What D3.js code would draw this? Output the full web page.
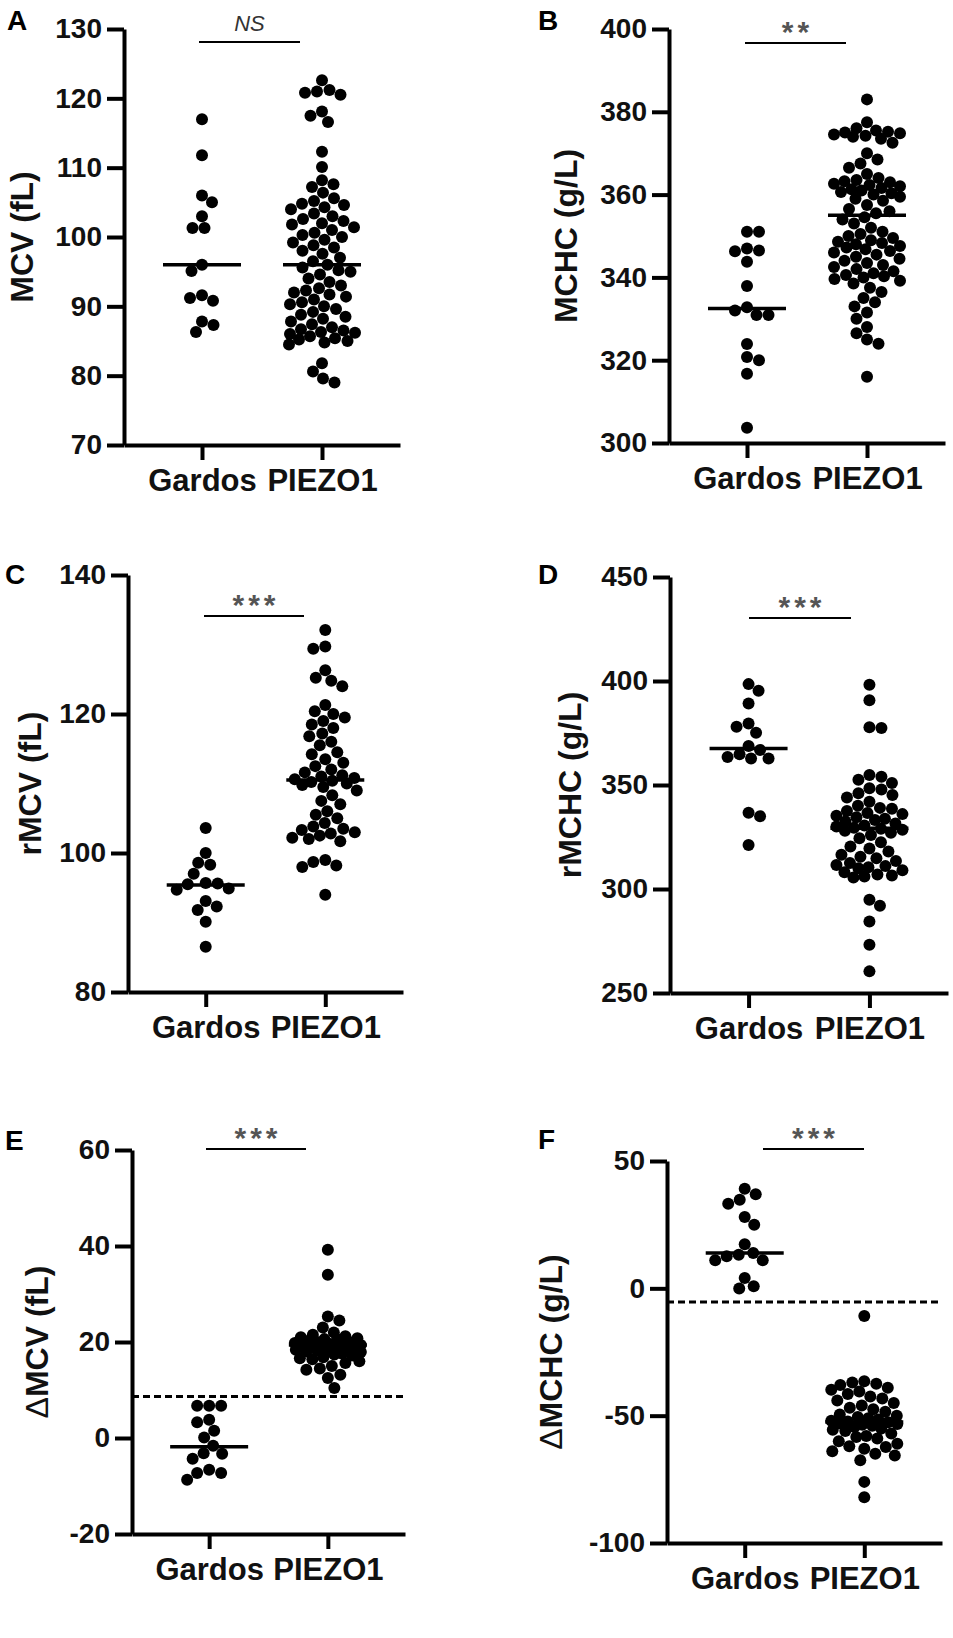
<!DOCTYPE html>
<html>
<head>
<meta charset="utf-8">
<script src="https://cdn.jsdelivr.net/npm/d3@7"></script>
<style>
  body { margin: 0; background: #fff; }
  svg text { font-family: "Liberation Sans", Arial, sans-serif; }
</style>
</head>
<body>
<svg id="fig" width="953" height="1638"></svg>
<script>
// groups on the x axis
var categories = ['Gardos', 'PIEZO1'];

// A - MCV (fL)
var mcvGardos = [117, 111.8, 106, 105, 103, 101.3, 101.3, 96, 95.1, 91.6, 91.2, 90.8, 87.8, 87.3, 86.3];
var mcvPiezo = [122.6, 121.2, 121, 120.8, 120.5, 118.1, 117.5, 116.6, 112.3, 110.1,
  108.2, 107.6, 107.2, 106.4, 105.6, 105.2, 104.8, 104.6, 104.3, 104,
  103.4, 103, 102.6, 102.3, 102, 101.8, 101.4, 101, 100.6, 100.3,
  100, 99.6, 99.2, 98.8, 98.5, 98, 97.6, 97, 96.5, 96,
  95.6, 95.2, 95, 94.6, 94, 93.5, 93, 92.6, 92.3, 92,
  91.7, 91.4, 91, 90.6, 90.3, 90, 89.6, 89.2, 88.8, 88.5,
  88.2, 87.8, 87.4, 87, 86.7, 86.5, 86.3, 86.2, 86, 85.7,
  85.4, 85.2, 85, 84.8, 84.5, 81.8, 80.6, 79.6, 79];
var mcvCentre = [96, 96];
var mcvTicks = [70, 80, 90, 100, 110, 120, 130];

// B - MCHC (g/L)
var mchcGardos = [351, 351, 347, 346.5, 346.3, 343.8, 337.9, 332.8, 332, 330.9, 330.9, 323.9, 320.8, 320, 316.7, 303.7];
var mchcPiezo = [383, 377.5, 376, 375.5, 375.2, 375, 374.8, 374.5, 374.2, 374,
  373.5, 372.5, 370, 368.5, 367.5, 366.5, 365, 364, 363.5, 363.2,
  363, 362.6, 362.3, 362, 361.6, 361.3, 361, 360.6, 360.3, 360,
  359.5, 359, 358.5, 357.5, 356.5, 356, 355.5, 354.5, 354, 353,
  352, 351, 350.5, 350, 349.5, 349, 348.6, 348.3, 348, 347.6,
  347.2, 346.8, 346.4, 346, 345.5, 345, 344.5, 344, 343.5, 343,
  342.5, 342, 341.5, 341, 340.6, 340.3, 340, 339.6, 339.2, 338.5,
  337.5, 336.5, 335, 334, 333, 331.5, 330, 328, 326.5, 325, 324, 316];
var mchcCentre = [332.5, 355];
var mchcTicks = [300, 320, 340, 360, 380, 400];

// C - rMCV (fL)
var rmcvGardos = [103.6, 100, 98.6, 98.3, 97, 95.7, 95.6, 95.5, 94.9, 94.7, 93.1, 92.3, 91.8, 90.1, 86.5];
var rmcvPiezo = [132.1, 129.7, 129.4, 126.3, 125.2, 124.8, 124, 121.3, 120.4, 120,
  119.5, 119, 118.5, 118, 117.2, 116.8, 116, 115.5, 114.5, 114.2,
  113.5, 113, 112.5, 112, 111.6, 111.2, 111, 110.8, 110.6, 110.4,
  110.2, 110, 109.8, 109.5, 109, 108.3, 107.5, 107, 106, 105.5,
  105, 104.3, 103.8, 103.5, 103.3, 103, 102.8, 102.5, 102.2, 102,
  101.7, 99, 98.7, 98.2, 98, 94];
var rmcvCentre = [95.4, 110.5];
var rmcvTicks = [80, 100, 120, 140];

// D - rMCHC (g/L)
var rmchcGardos = [398.5, 395.3, 389.2, 379.6, 378, 375.1, 368.7, 366.8, 364.8, 363.5, 362.7, 362.7, 336.7, 335, 321.2];
var rmchcPiezo = [398.2, 390.8, 377.8, 377.4, 354.8, 354, 352.5, 351, 348.4, 347.8,
  346, 345.2, 344, 342, 340, 339, 338.6, 337.5, 336.5, 336,
  335.2, 334.5, 333.8, 333.2, 332.5, 331.5, 330.5, 330, 329.5, 329,
  328.5, 328, 327, 326, 324.4, 322.5, 320.4, 319.5, 318, 316.5,
  315.5, 314.8, 313.5, 312.5, 311.5, 311, 310.5, 310, 309, 308,
  307, 306.5, 306, 305.5, 294.8, 292, 284.4, 273.2, 260.4];
var rmchcCentre = [367.6, 329.2];
var rmchcTicks = [250, 300, 350, 400, 450];

// E - delta MCV (fL)
var dmcvGardos = [6.7, 6.7, 6.7, 3.8, 3.3, 1.5, 0.1, -1.6, -3.2, -3.3, -4.3, -6.6, -7.3, -7.3, -8.7];
var dmcvPiezo = [39.2, 34, 25.3, 24.5, 23, 22, 21.5, 21.2, 21, 20.8,
  20.6, 20.5, 20.2, 20, 19.9, 19.8, 19.6, 19.5, 19.4, 19.2,
  19.1, 19, 18.8, 18.7, 18.6, 18.4, 18.3, 18.2, 18, 17.9,
  17.6, 17.4, 17.2, 16.8, 16.6, 16.4, 16, 15.6, 15, 14.5,
  14.2, 13.2, 12.5, 10.4];
var dmcvCentre = [-1.8, 19.4];
var dmcvCutoff = 8.65;
var dmcvTicks = [-20, 0, 20, 40, 60];

// F - delta MCHC (g/L)
var dmchcGardos = [39.1, 36.9, 34.8, 33.2, 28, 25, 17.3, 13.9, 13.2, 12.6, 11, 11, 4.1, 0.8, -0.1];
var dmchcPiezo = [-10.9, -36.5, -37, -37.5, -38, -39, -39.8, -40.5, -41.5, -42.5,
  -43.3, -44, -45, -46, -46.9, -47.5, -48.5, -49.5, -50, -50.5,
  -51, -51.5, -52, -52.3, -52.6, -53, -53.3, -53.6, -54, -54.5,
  -55, -55.5, -56, -57, -58, -58.4, -59, -60, -61, -62,
  -62.3, -63, -64, -65, -65.6, -67.5, -76, -82];
var dmchcCentre = [13.9, -52.5];
var dmchcCutoff = -5.4;
var dmchcTicks = [-100, -50, 0, 50];

var sigLabels = ['NS', '**', '***', '***', '***', '***'];

// panel layout (pixels)
var panels = [
  { letter: 'A', title: 'MCV (fL)', groups: [mcvGardos, mcvPiezo], centre: mcvCentre, ticks: mcvTicks,
    left: 124, right: 400, top: 29, bottom: 445, lx: 7, ly: 30, tx: 33, sig: [199, 300, 42] },
  { letter: 'B', title: 'MCHC (g/L)', groups: [mchcGardos, mchcPiezo], centre: mchcCentre, ticks: mchcTicks,
    left: 669, right: 945, top: 29, bottom: 443, lx: 538, ly: 30, tx: 577, sig: [745, 846, 43] },
  { letter: 'C', title: 'rMCV (fL)', groups: [rmcvGardos, rmcvPiezo], centre: rmcvCentre, ticks: rmcvTicks,
    left: 128, right: 403, top: 575, bottom: 992, lx: 5, ly: 584, tx: 41, sig: [204, 304, 616] },
  { letter: 'D', title: 'rMCHC (g/L)', groups: [rmchcGardos, rmchcPiezo], centre: rmchcCentre, ticks: rmchcTicks,
    left: 670, right: 948, top: 577, bottom: 993, lx: 538, ly: 584, tx: 581, sig: [749, 851, 618] },
  { letter: 'E', title: 'MCV (fL)', delta: true, groups: [dmcvGardos, dmcvPiezo], centre: dmcvCentre, ticks: dmcvTicks,
    cutoff: dmcvCutoff, left: 132, right: 405, top: 1150, bottom: 1534, lx: 5, ly: 1150, tx: 48, sig: [206, 306, 1149] },
  { letter: 'F', title: 'MCHC (g/L)', delta: true, groups: [dmchcGardos, dmchcPiezo], centre: dmchcCentre, ticks: dmchcTicks,
    cutoff: dmchcCutoff, left: 667, right: 942, top: 1161, bottom: 1543, lx: 538, ly: 1149, tx: 562, sig: [763, 864, 1149] }
];

var dotR = 6;
var gap = 12;
var maxOffset = 33;

// beeswarm kept inside +-maxOffset; when crowded, take the least overlapping spot
function swarm(values, y) {
  var pts = values.map(function (v) { return { v: v, y: y(v) }; })
    .sort(function (a, b) { return a.y - b.y; });
  var placed = [];
  pts.forEach(function (p, i) {
    var best = null, bestX = 0, bestD = -1;
    for (var o = 0; o <= maxOffset && best === null; o += 0.5) {
      var cands = (i % 2) ? [o, -o] : [-o, o];
      for (var k = 0; k < 2; k++) {
        var x = cands[k];
        var minD = Infinity;
        placed.forEach(function (q) {
          var dy = q.y - p.y, dx = q.dx - x;
          var d = Math.sqrt(dx * dx + dy * dy);
          if (d < minD) minD = d;
        });
        if (minD >= gap - 0.01) { best = x; break; }
        if (minD > bestD) { bestD = minD; bestX = x; }
      }
    }
    p.dx = best !== null ? best : bestX;
    placed.push(p);
  });
  return pts;
}

var svg = d3.select('#fig');
svg.append('rect').attr('width', 953).attr('height', 1638).attr('fill', '#fff');

panels.forEach(function (p, pi) {
  var g = svg.append('g');
  var ticks = p.ticks;
  var y = d3.scaleLinear()
    .domain([ticks[0], ticks[ticks.length - 1]])
    .range([p.bottom, p.top]);
  var x = d3.scalePoint()
    .domain(categories)
    .range([p.left, p.right])
    .padding(0.65);

  // y axis
  var ya = g.append('g')
    .attr('transform', 'translate(' + p.left + ',0)')
    .call(d3.axisLeft(y).tickValues(ticks).tickSize(17).tickSizeOuter(0).tickPadding(5)
      .tickFormat(function (d) { return String(d); }));
  ya.select('.domain').attr('stroke', '#000').attr('stroke-width', 4);
  ya.selectAll('.tick line').attr('stroke', '#000').attr('stroke-width', 4);
  ya.selectAll('.tick text')
    .attr('font-size', 28).attr('font-weight', 'bold')
    .attr('fill', '#111')
    .style('font-family', '"Liberation Sans", Arial, sans-serif');

  // x axis
  var xa = g.append('g')
    .attr('transform', 'translate(0,' + p.bottom + ')')
    .call(d3.axisBottom(x).tickSize(15).tickSizeOuter(0).tickPadding(9));
  xa.select('.domain').attr('stroke', '#000').attr('stroke-width', 4);
  xa.selectAll('.tick line').attr('stroke', '#000').attr('stroke-width', 4);
  xa.selectAll('.tick text')
    .attr('font-size', 31).attr('font-weight', 'bold')
    .attr('fill', '#111')
    .style('font-family', '"Liberation Sans", Arial, sans-serif');

  // cut-off line
  if (p.cutoff !== undefined) {
    g.append('line')
      .attr('x1', p.left).attr('x2', p.right)
      .attr('y1', y(p.cutoff)).attr('y2', y(p.cutoff))
      .attr('stroke', '#000').attr('stroke-width', 3)
      .attr('stroke-dasharray', '7,4');
  }

  // dots
  p.groups.forEach(function (vals, gi) {
    var cx = x(categories[gi]);
    var pts = swarm(vals, y);
    g.append('g').selectAll('circle')
      .data(pts)
      .enter()
      .append('circle')
      .attr('cx', function (d) { return cx + d.dx; })
      .attr('cy', function (d) { return d.y; })
      .attr('r', dotR)
      .attr('fill', '#000');

    // centre line
    g.append('line')
      .attr('x1', cx - 39).attr('x2', cx + 39)
      .attr('y1', y(p.centre[gi])).attr('y2', y(p.centre[gi]))
      .attr('stroke', '#000').attr('stroke-width', 3.5);
  });

  // significance bar
  g.append('line')
    .attr('x1', p.sig[0]).attr('x2', p.sig[1])
    .attr('y1', p.sig[2]).attr('y2', p.sig[2])
    .attr('stroke', '#000').attr('stroke-width', 2);
  var label = sigLabels[pi];
  if (label === 'NS') {
    g.append('text')
      .attr('x', (p.sig[0] + p.sig[1]) / 2).attr('y', p.sig[2] - 11)
      .attr('text-anchor', 'middle')
      .attr('font-size', 22).attr('font-style', 'italic')
      .attr('fill', '#333')
      .text(label);
  } else {
    g.append('text')
      .attr('x', (p.sig[0] + p.sig[1]) / 2 + 2).attr('y', p.sig[2] - 1)
      .attr('text-anchor', 'middle')
      .attr('font-size', 30).attr('font-weight', 'bold')
      .attr('letter-spacing', 4)
      .attr('fill', '#555')
      .text(label);
  }

  // y title
  var t = g.append('text')
    .attr('transform', 'translate(' + p.tx + ',' + (p.top + p.bottom) / 2 + ') rotate(-90)')
    .attr('text-anchor', 'middle')
    .attr('font-size', 32).attr('font-weight', 'bold')
    .attr('fill', '#111');
  if (p.delta) {
    t.append('tspan').attr('font-weight', 'normal').text('\u0394');
  }
  t.append('tspan').text(p.title);

  // panel letter
  g.append('text')
    .attr('x', p.lx).attr('y', p.ly)
    .attr('font-size', 28).attr('font-weight', 'bold')
    .attr('fill', '#000')
    .text(p.letter);
});
</script>
</body>
</html>
